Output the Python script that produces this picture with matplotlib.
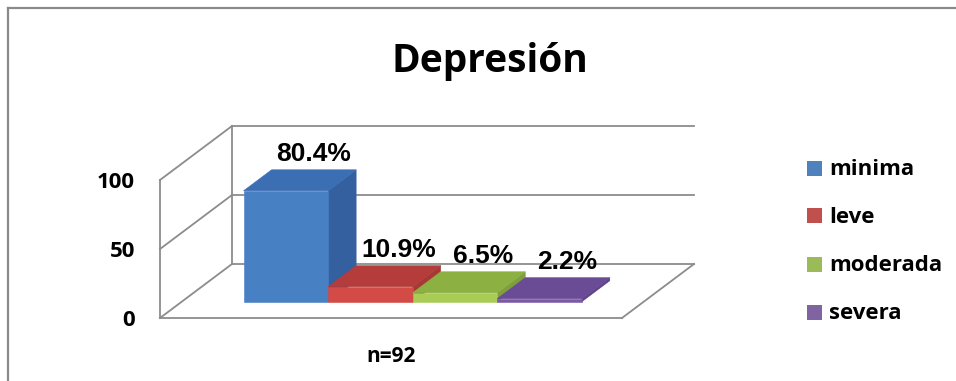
import matplotlib
matplotlib.use('Agg')
import matplotlib.pyplot as plt
from matplotlib.patches import Polygon, Rectangle
from matplotlib.lines import Line2D

# data
categories = ['minima', 'leve', 'moderada', 'severa']
percentages = [80.4, 10.9, 6.5, 2.2]
group_label = 'n=92'
y_ticks = [0, 50, 100]
title = 'Depresión'

# colours: front / top / side faces of each bar, and legend swatches
front_colors = ['#4880c4', '#d24b46', '#a8cc56', '#7a5aa5']
top_colors = ['#3c6eb4', '#b43c3a', '#8cb042', '#694b96']
side_colors = ['#3460a0', '#a83836', '#7f9f3c', '#5e4389']
legend_colors = ['#4f81bd', '#c0504d', '#9bbb59', '#8064a2']
wall_color = '#8c8c8c'

W, H = 956, 381
fig = plt.figure(figsize=(W / 100, H / 100), dpi=100)

# the axes box is the front plane of the 3-D chart
ax = fig.add_axes([160 / W, (H - 318) / H, 462 / W, 138 / H])
ax.set_xlim(0, 1)
ax.set_ylim(0, 100)
for s in ax.spines.values():
    s.set_visible(False)

# oblique depth: going from front (d=0) to back (d=1) moves right and up
DX = 72 / 462
DY = 54 / 138 * 100


def proj(c, v, d):
    return (c + d * DX, v + d * DY)


def seg(p, q):
    ax.add_line(Line2D([p[0], q[0]], [p[1], q[1]], color=wall_color,
                       lw=1.3, clip_on=False, zorder=1))


# walls and floor
for t in y_ticks:
    seg(proj(0, t, 1), proj(1, t, 1))
    seg(proj(0, t, 0), proj(0, t, 1))
seg(proj(0, 0, 0), proj(0, 100, 0))
seg(proj(0, 0, 1), proj(0, 100, 1))
seg(proj(0, 0, 0), proj(1, 0, 0))
seg(proj(1, 0, 0), proj(1, 0, 1))

# bars: four series side by side in one category
bar_w = 0.183
start = (1 - bar_w * len(percentages)) / 2
d1, d2 = 0.30, 0.69
for i, val in enumerate(percentages):
    L = start + i * bar_w
    R = L + bar_w
    front = [proj(L, 0, d1), proj(R, 0, d1), proj(R, val, d1), proj(L, val, d1)]
    top = [proj(L, val, d1), proj(R, val, d1), proj(R, val, d2), proj(L, val, d2)]
    side = [proj(R, 0, d1), proj(R, 0, d2), proj(R, val, d2), proj(R, val, d1)]
    for pts, col in ((side, side_colors[i]), (front, front_colors[i]), (top, top_colors[i])):
        ax.add_patch(Polygon(pts, closed=True, facecolor=col, edgecolor=col,
                             lw=0.4, clip_on=False, zorder=2 + i))
    ax.annotate('{:.1f}%'.format(val), xy=proj((L + R) / 2, val, d2),
                xytext=(0, 9), textcoords='offset pixels', ha='center',
                va='baseline', fontsize=19, fontweight='bold',
                family='Liberation Sans', zorder=10, annotation_clip=False)

# axis labels
ax.set_yticks(y_ticks)
ax.set_yticklabels([str(t) for t in y_ticks])
ax.set_xticks([0.5])
ax.set_xticklabels([group_label])
ax.tick_params(length=0)
ax.tick_params(axis='y', pad=18, labelsize=16)
ax.tick_params(axis='x', pad=20, labelsize=15)
for lab in ax.get_yticklabels() + ax.get_xticklabels():
    lab.set_fontfamily('Open Sans')
    lab.set_fontweight('bold')
ax.patch.set_visible(False)

# title
fig.text(490 / W, 1 - 72 / H, title, ha='center', va='baseline',
         fontsize=28, fontweight='bold', family='Open Sans')

# legend
for i, name in enumerate(categories):
    yc = 168 + i * 48
    fig.patches.append(Rectangle((807 / W, 1 - (yc + 7.5) / H), 15 / W, 15 / H,
                                 transform=fig.transFigure,
                                 facecolor=legend_colors[i], edgecolor='none'))
    fig.text(829 / W, 1 - (yc + 7) / H, name, ha='left', va='baseline',
             fontsize=16, fontweight='bold', family='Open Sans')

# outer frame
fig.add_artist(Line2D([8 / W, 8 / W], [0, 1 - 8 / H], color='#8a8a8a', lw=1.6,
                      transform=fig.transFigure))
fig.add_artist(Line2D([8 / W, 1], [1 - 8 / H, 1 - 8 / H], color='#8a8a8a', lw=1.6,
                      transform=fig.transFigure))

fig.savefig('out.png', dpi=100)
